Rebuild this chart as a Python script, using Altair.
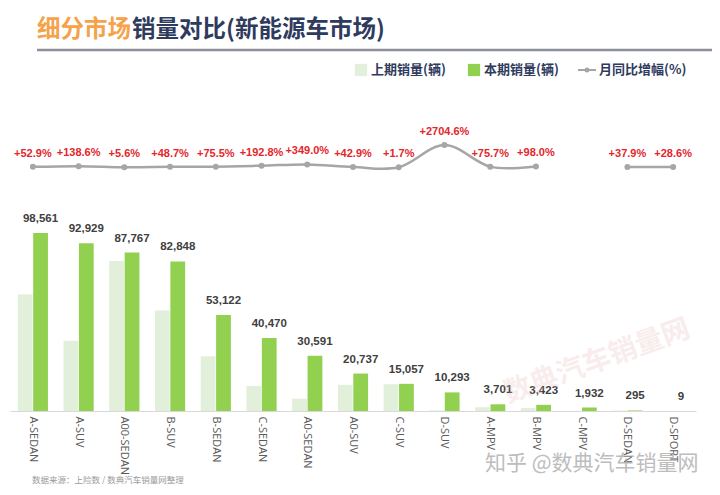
import altair as alt
import pandas as pd

# ---------------- data ----------------
categories = ["A-SEDAN", "A-SUV", "A00-SEDAN", "B-SUV", "B-SEDAN", "C-SEDAN", "A0-SEDAN",
              "A0-SUV", "C-SUV", "D-SUV", "A-MPV", "B-MPV", "C-MPV", "D-SEDAN", "D-SPORT"]
prev_sales = [64461, 38948, 83113, 55714, 30269, 13822, 6813,
              14512, 14805, 367, 2106, 1729, 0, 214, 7]
curr_sales = [98561, 92929, 87767, 82848, 53122, 40470, 30591,
              20737, 15057, 10293, 3701, 3423, 1932, 295, 9]
yoy_pct = [52.9, 138.6, 5.6, 48.7, 75.5, 192.8, 349.0,
           42.9, 1.7, 2704.6, 75.7, 98.0, None, 37.9, 28.6]

PREV = "上期销量(辆)"
CURR = "本期销量(辆)"
periods = [PREV, CURR]

LIGHT = "#E2EFDA"
GREEN = "#92D050"
GRAY = "#A6A6A6"
RED = "#E3262B"
NAVY = "#2F3B5E"
ORANGE = "#F5A24A"

bars_df = pd.DataFrame(
    [{"cat": c, "period": PREV, "sales": p} for c, p in zip(categories, prev_sales)] +
    [{"cat": c, "period": CURR, "sales": v} for c, v in zip(categories, curr_sales)]
)

seg_ids = []
seg = 0
for v in yoy_pct:
    if v is None:
        seg += 1
    seg_ids.append(seg)
line_df = pd.DataFrame({"cat": categories, "pct": yoy_pct, "seg": seg_ids})
line_df = line_df[line_df["pct"].notna()].copy()
line_df["label"] = line_df["pct"].map(lambda v: f"+{v:.1f}%")

W, H = 686, 316

x_enc = alt.X("cat:N", sort=categories, title=None,
              scale=alt.Scale(paddingInner=0.34, paddingOuter=0.17),
              axis=alt.Axis(labelAngle=90, ticks=False, domainColor="#D9D9D9",
                            domainWidth=1.2, labelColor="#595959", labelFont="Open Sans",
                            labelFontSize=11, labelPadding=5))
xo_enc = alt.XOffset("period:N", sort=periods, scale=alt.Scale(domain=periods, paddingInner=0.04))
y_bar = alt.Y("sales:Q", scale=alt.Scale(domain=[0, 175000]), axis=None)

bars = alt.Chart(bars_df).mark_bar().encode(
    x=x_enc, xOffset=xo_enc, y=y_bar,
    color=alt.Color("period:N", scale=alt.Scale(domain=periods, range=[LIGHT, GREEN]), legend=None),
)

bar_labels = alt.Chart(bars_df).transform_filter(
    alt.datum.period == CURR
).mark_text(dy=-9, font="Liberation Sans", fontWeight="bold", fontSize=11.5,
            color="#404040", baseline="bottom").encode(
    x=alt.X("cat:N", sort=categories), xOffset=xo_enc, y=y_bar,
    text=alt.Text("sales:Q", format=",")
)

bar_part = alt.layer(bars, bar_labels)

y_line = alt.Y("pct:Q", scale=alt.Scale(domain=[-29540, 8760]), axis=None)
line = alt.Chart(line_df).mark_line(interpolate="cardinal", color=GRAY, strokeWidth=2.5).encode(
    x=alt.X("cat:N", sort=categories), y=y_line, detail="seg:N"
)
pts = alt.Chart(line_df).mark_circle(size=36, color=GRAY, opacity=1).encode(
    x=alt.X("cat:N", sort=categories), y=y_line
)
pct_labels = alt.Chart(line_df).mark_text(dy=-13, font="Liberation Sans", fontWeight="bold",
                                         fontSize=11, color=RED).encode(
    x=alt.X("cat:N", sort=categories), y=y_line, text="label:N"
)
line_part = alt.layer(line, pts, pct_labels)

# ------------- decorations (title, legend, notes) -------------
one = pd.DataFrame({"k": [0]})
def txt(text, x, y, size, color, weight="normal", font="Noto Sans CJK SC", align="left", angle=0, opacity=1.0):
    return alt.Chart(one).mark_text(text=text, align=align, baseline="middle", fontSize=size,
                                    color=color, fontWeight=weight, font=font, angle=angle,
                                    opacity=opacity).encode(x=alt.value(x), y=alt.value(y))

title1 = txt("细分市场", 27, -65, 23.5, ORANGE, "bold")
title2 = txt("销量对比(新能源车市场)", 122, -65, 23.5, NAVY, "bold")
title_rule = alt.Chart(one).mark_rule(color="#8C8F99", strokeWidth=2.5).encode(
    x=alt.value(27), x2=alt.value(W + 20), y=alt.value(-45))

leg_sq1 = alt.Chart(one).mark_square(size=150, color=LIGHT, opacity=1).encode(
    x=alt.value(351), y=alt.value(-25))
leg_t1 = txt(PREV, 361, -25, 13, NAVY, "bold")
leg_sq2 = alt.Chart(one).mark_square(size=150, color=GREEN, opacity=1).encode(
    x=alt.value(464), y=alt.value(-25))
leg_t2 = txt(CURR, 474, -25, 13, NAVY, "bold")
leg_ln = alt.Chart(one).mark_rule(color=GRAY, strokeWidth=2).encode(
    x=alt.value(568), x2=alt.value(586), y=alt.value(-25))
leg_pt = alt.Chart(one).mark_circle(size=25, color=GRAY, opacity=1).encode(
    x=alt.value(577), y=alt.value(-25))
leg_t3 = txt("月同比增幅(%)", 589, -25, 13, NAVY, "bold")

footer = txt("数据来源：上险数 / 数典汽车销量网整理", 22, 385, 8.5, "#9A9A9A")
wm_diag = txt("数典汽车销量网", 587, 267, 28, "#E8B8B8", "bold", angle=340, align="center", opacity=0.25)
wm_zhihu = txt("知乎 @数典汽车销量网", 475, 369, 21, "#A8A8A8", opacity=0.75)

deco = alt.layer(title1, title2, title_rule, leg_sq1, leg_t1, leg_sq2, leg_t2,
                 leg_ln, leg_pt, leg_t3, footer, wm_diag, wm_zhihu)

chart = alt.layer(bar_part, line_part, deco).resolve_scale(
    y="independent"
).properties(
    width=W, height=H,
    autosize=alt.AutoSizeParams(type="none"),
    padding={"left": 2, "top": 87, "right": 16, "bottom": 76},
    background="white",
).configure_view(stroke=None)

chart.save("out.html", embed_options={"renderer": "svg", "actions": False})
